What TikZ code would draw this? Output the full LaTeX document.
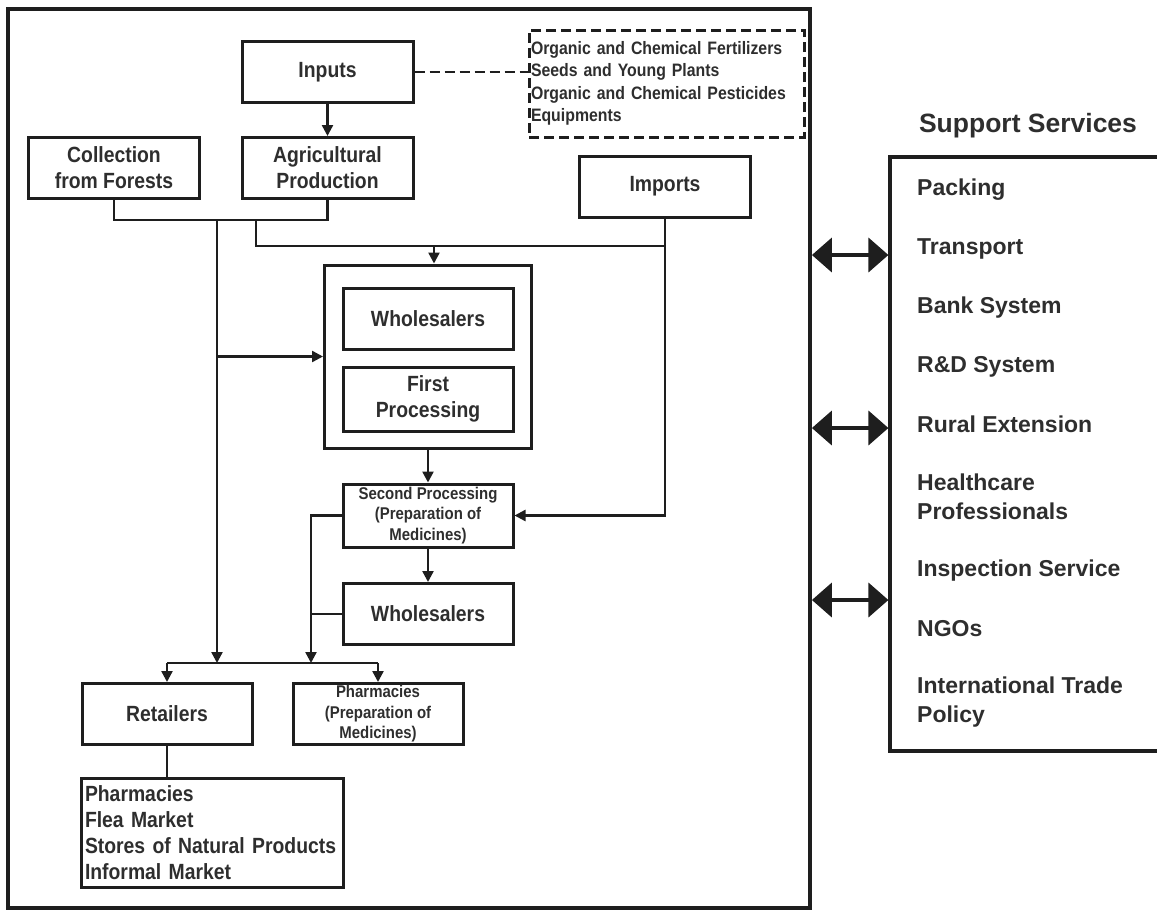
\documentclass[tikz,border=0pt]{standalone}
\usepackage{fontspec}
\usepackage{xcolor}
\usepackage{tikz}
\usetikzlibrary{arrows.meta}
\newfontfamily\narrowfont{Liberation Sans}[FakeStretch=0.88]
\newfontfamily\widefont{Liberation Sans}
\definecolor{ink}{HTML}{1E1E1E}
\definecolor{txt}{HTML}{2E2E2E}

\begin{document}
\begin{tikzpicture}[
    x=1pt,y=-1pt,
    block/.style={draw=ink,line width=3pt,minimum width=171pt,minimum height=61pt,align=center,inner sep=2pt,text=txt,font=\narrowfont\bfseries\fontsize{22}{26}\selectfont},
    small/.style={block,inner sep=0pt,font=\narrowfont\bfseries\fontsize{17}{20.5}\selectfont},
    listbox/.style={draw=ink,line width=3pt,align=left,inner sep=4pt,text=txt,font=\narrowfont\bfseries\fontsize{22}{26}\selectfont},
    service/.style={anchor=west,align=left,inner sep=0pt,text=txt,font=\widefont\bfseries\fontsize{23}{29}\selectfont},
    line/.style={draw=ink,line width=2.4pt},
    arr/.style={line,-{Triangle[length=11pt,width=11pt]}},
    dbl/.style={draw=ink,line width=4pt,{Triangle[length=20pt,width=34pt]}-{Triangle[length=20pt,width=34pt]}}
  ]
    \useasboundingbox (0,0) rectangle (1157,911);
    % value chain frame and support services
    \node[draw=ink,line width=3.8pt,minimum width=802pt,minimum height=899pt,inner sep=0pt] (chain) at (409,458.5) {};
    \node[draw=ink,line width=3.2pt,minimum width=285pt,minimum height=594pt,inner sep=0pt] (support) at (1032.5,454) {};
    \node[text=txt,inner sep=0pt,font=\widefont\bfseries\fontsize{26.5}{30}\selectfont] (title) at (1028,126) {Support Services};
    \foreach \y/\t [count=\i] in {190/Packing,249/Transport,308/Bank System,367/R\&D System,424/Rural Extension,
        497/{Healthcare\\Professionals},571/Inspection Service,629/NGOs,702/{International Trade\\Policy}}
      \node[service] (s\i) at (917,\y) {\t};
    \foreach \y in {255,428,600}
      \draw[dbl] (chain.east |- 0,\y) -- (support.west |- 0,\y);

    % production stage
    \node[block] (inputs) at (327.5,72) {Inputs};
    \node[listbox,dash pattern=on 10pt off 5pt,inner sep=2pt,text width=271pt,minimum height=107pt,
      font=\narrowfont\bfseries\fontsize{18}{22.5}\selectfont] (inlist) at (666.5,83.5)
      {Organic and Chemical Fertilizers\\Seeds and Young Plants\\Organic and Chemical Pesticides\\Equipments};
    \node[block] (collect) at (114,168) {Collection\\from Forests};
    \node[block] (agri) at (327.5,168) {Agricultural\\Production};
    \node[block] (imports) at (665,186.5) {Imports};

    % processing and trade
    \node[draw=ink,line width=3pt,minimum width=207pt,minimum height=183pt,inner sep=0pt] (proc) at (428,356.5) {};
    \node[block,minimum width=170pt] (whole1) at (428,319) {Wholesalers};
    \node[block,minimum width=170pt,minimum height=64pt] (first) at (428,399) {First\\Processing};
    \node[small,minimum width=170pt,minimum height=63pt] (second) at (428,515.5) {Second Processing\\(Preparation of\\Medicines)};
    \node[block,minimum width=170pt] (whole2) at (428,614) {Wholesalers};

    % retail
    \node[block,minimum width=170pt] (retail) at (167,714) {Retailers};
    \node[small,minimum width=170pt] (pharm) at (378,714) {Pharmacies\\(Preparation of\\Medicines)};
    \node[listbox,text width=254pt,minimum height=109pt] (outlets) at (212,832.5)
      {Pharmacies\\Flea Market\\Stores of Natural Products\\Informal Market};

    \coordinate (split) at (217,220);
    \coordinate (mix) at (256,246);
    \coordinate (barl) at (311,663);

    \draw[line,dash pattern=on 10pt off 5pt] (inputs.east) -- (inputs.east -| inlist.west);
    \foreach \x/\y in {inputs/agri,proc/second,second/whole2}
      \draw[arr] (\x) -- (\y);
    \draw[line] (collect.south) |- (split) -| (agri.south);
    \draw[line] (mix |- split) -- (mix) -- (imports.south |- mix);
    \draw[arr] ([xshift=6pt]proc.north |- mix) -- ([xshift=6pt]proc.north);
    \draw[arr] (split) -- (split |- barl);
    \draw[arr] (split |- proc.west) -- (proc.west);
    \draw[arr] (imports.south) |- (second.east);
    \draw[arr] (second.west) -| (barl);
    \draw[line] (whole2.west) -- (whole2.west -| barl);
    \draw[line] (retail.north |- barl) -- (pharm.north |- barl);
    \foreach \x in {retail,pharm}
      \draw[arr] (\x.north |- barl) -- (\x.north);
    \draw[line] (retail.south) -- (retail.south |- outlets.north);
  \end{tikzpicture}
\end{document}
